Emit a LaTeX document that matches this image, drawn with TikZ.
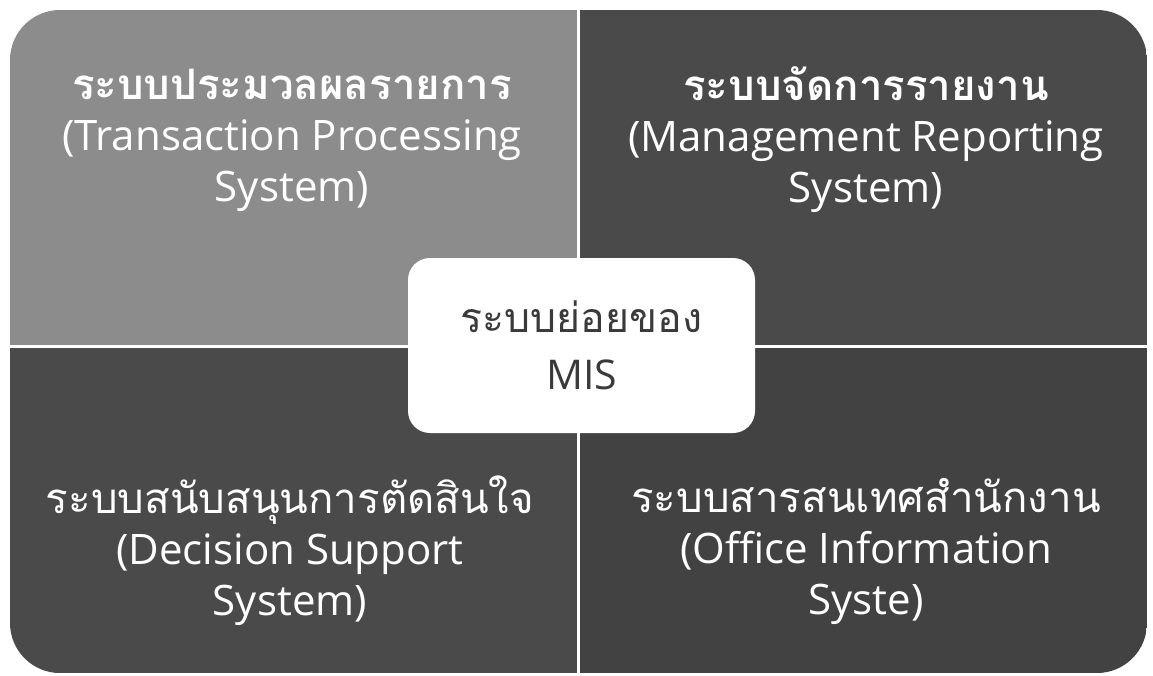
\documentclass[tikz,border=0pt]{standalone}
\usepackage{fontspec}
\setmainfont{Open Sans}
\newfontfamily\thai[Script=Thai]{Loma}
\definecolor{qlight}{HTML}{8C8C8C}
\definecolor{qdark}{HTML}{4A4A4A}
\definecolor{qdarker}{HTML}{424242}
\definecolor{ctext}{HTML}{3A3A3A}
\tikzset{
  qtext/.style={text=white, align=center, font=\fontsize{42}{51}\selectfont, inner sep=0pt},
  centerbox/.style={fill=white, rounded corners=22pt, minimum width=347pt, minimum height=175pt, inner sep=0pt},
  divider/.style={white, line width=3pt}
}
\begin{document}
\begin{tikzpicture}[x=1pt,y=-1pt]
\useasboundingbox (0,0) rectangle (1153,675);
\fill[white] (0,0) rectangle (1153,675);
\begin{scope}
  \clip[rounded corners=50pt] (10,10) rectangle (1147,673);
  \fill[qlight] (10,10) rectangle (578,346);
  \fill[qdark] (578,10) rectangle (1147,346);
  \fill[qdark] (10,346) rectangle (578,673);
  \fill[qdarker] (578,346) rectangle (1147,673);
\end{scope}
\coordinate (vt) at (578,10);
\coordinate (vb) at (578,673);
\coordinate (hl) at (10,346);
\coordinate (hr) at (1147,346);
\draw[divider] (vt) -- (vb);
\draw[divider] (hl) -- (hr);
\node[centerbox] (mis) at (581.5,345.5) {};
\node[text=ctext, align=center, font=\fontsize{41}{57}\selectfont] (mistext) at (mis.center) {{\thai ระบบย่อยของ}\\MIS};
\node[qtext] (tps) at (292,140) {{\thai\bfseries ระบบประมวลผลรายการ}\\(Transaction Processing\\System)};
\node[qtext] (mrs) at (866,140) {{\thai\bfseries ระบบจัดการรายงาน}\\(Management Reporting\\System)};
\node[qtext] (dss) at (290,551) {{\thai ระบบสนับสนุนการตัดสินใจ}\\(Decision Support\\System)};
\node[qtext] (ois) at (866,551) {{\thai ระบบสารสนเทศสำนักงาน}\\(Office Information\\Syste)};
\end{tikzpicture}
\end{document}
